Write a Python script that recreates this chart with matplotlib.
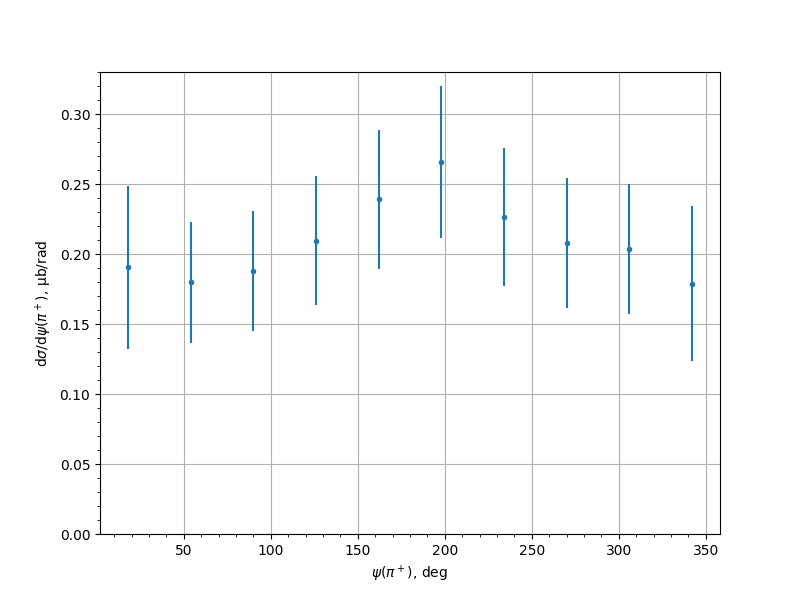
import numpy as np
import matplotlib.pyplot as plt
from matplotlib.ticker import AutoMinorLocator

# psi bin centres (deg) and cross section values
psi = [18, 54, 90, 126, 162, 198, 234, 270, 306, 342]
dsigma = [0.1907, 0.1800, 0.1880, 0.2098, 0.2393, 0.2660, 0.2268, 0.2080, 0.2037, 0.1790]
err = [0.0581, 0.0431, 0.0428, 0.0460, 0.0499, 0.0545, 0.0495, 0.0463, 0.0463, 0.0553]

fig, ax = plt.subplots(figsize=(8, 6), dpi=100)
ax.errorbar(psi, dsigma, yerr=err, fmt='.')
ax.set_ylim(bottom=0)
ax.xaxis.set_minor_locator(AutoMinorLocator())
ax.yaxis.set_minor_locator(AutoMinorLocator())
ax.grid(True)
ax.set_xlabel(r'$\psi(\pi^+)$, deg')
ax.set_ylabel(r'd$\sigma$/d$\psi(\pi^+)$, $\mathrm{\mu}$b/rad')
fig.savefig('out.png')
